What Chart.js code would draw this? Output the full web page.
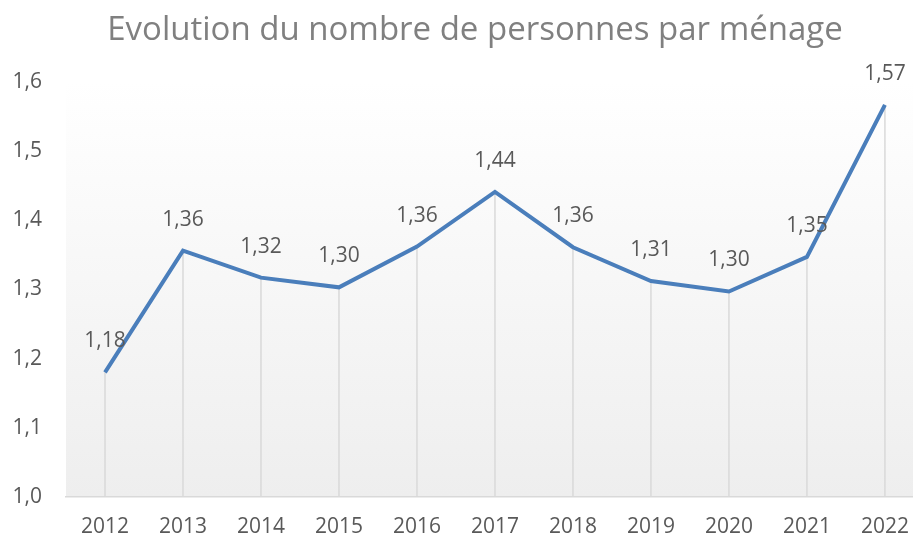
<!DOCTYPE html>
<html>
<head>
<meta charset="utf-8">
<script src="https://cdn.jsdelivr.net/npm/chart.js@4/dist/chart.umd.min.js"></script>
<style>
  body { margin: 0; background: #fff; }
</style>
</head>
<body>
<canvas id="chart" width="913" height="540"></canvas>
<script>
const titre = 'Evolution du nombre de personnes par ménage'
const annees = [2012, 2013, 2014, 2015, 2016, 2017, 2018, 2019, 2020, 2021, 2022]
const personnes = [1.18, 1.356, 1.317, 1.303, 1.362, 1.441, 1.361, 1.312, 1.297, 1.347, 1.567]
const yTicks = [1.0, 1.1, 1.2, 1.3, 1.4, 1.5, 1.6]

const virgule = (v, d) => v.toFixed(d).replace('.', ',')

// fond dégradé de la zone de tracé
const fondPlugin = {
  id: 'fond',
  beforeDraw(chart) {
    const { ctx, chartArea: a } = chart
    const g = ctx.createLinearGradient(0, a.top, 0, a.bottom)
    g.addColorStop(0, '#ffffff')
    g.addColorStop(1, '#eeeeee')
    ctx.save()
    ctx.fillStyle = g
    ctx.fillRect(a.left, a.top, a.right - a.left, a.bottom - a.top)
    ctx.restore()
  }
}

// lignes de projection (drop lines) sous chaque point
const projectionPlugin = {
  id: 'projection',
  beforeDatasetsDraw(chart) {
    const { ctx, chartArea: a } = chart
    const meta = chart.getDatasetMeta(0)
    ctx.save()
    ctx.strokeStyle = '#d9d9d9'
    ctx.lineWidth = 1.5
    meta.data.forEach(pt => {
      ctx.beginPath()
      ctx.moveTo(pt.x, pt.y)
      ctx.lineTo(pt.x, a.bottom)
      ctx.stroke()
    })
    ctx.restore()
  }
}

// étiquettes de données + titre
const textePlugin = {
  id: 'texte',
  afterDraw(chart) {
    const { ctx } = chart
    const meta = chart.getDatasetMeta(0)
    ctx.save()
    ctx.fillStyle = '#595959'
    ctx.font = '21px "Open Sans"'
    ctx.textAlign = 'center'
    ctx.textBaseline = 'middle'
    meta.data.forEach((pt, i) => {
      ctx.fillText(virgule(personnes[i], 2), pt.x, pt.y - 31)
    })
    ctx.fillStyle = '#808080'
    ctx.font = '33px "Open Sans"'
    ctx.textBaseline = 'alphabetic'
    ctx.fillText(titre, 475, 40)
    ctx.restore()
  }
}

const config = {
  type: 'line',
  data: {
    datasets: [{
      data: annees.map((a, i) => ({ x: a, y: personnes[i] })),
      borderColor: '#4a7ebb',
      borderWidth: 4,
      pointRadius: 0,
      tension: 0,
      fill: false,
    }]
  },
  options: {
    responsive: false,
    animation: false,
    layout: { padding: { top: 82, right: 0, left: 0, bottom: 0 } },
    plugins: {
      legend: { display: false },
      title: { display: false },
      tooltip: { enabled: false },
    },
    scales: {
      x: {
        type: 'linear',
        min: 2011.5,
        max: 2022.36,
        afterBuildTicks: scale => { scale.ticks = annees.map(v => ({ value: v })) },
        grid: { display: true, drawOnChartArea: false, drawTicks: true, tickLength: 18, tickColor: 'rgba(0,0,0,0)' },
        border: { display: true, color: '#d9d9d9', width: 1.5 },
        ticks: {
          color: '#595959',
          font: { family: 'Open Sans', size: 21 },
          padding: 0,
          maxRotation: 0,
          autoSkip: false,
          callback: v => String(v),
        }
      },
      y: {
        min: 1.0,
        max: 1.6,
        afterBuildTicks: scale => { scale.ticks = yTicks.map(v => ({ value: v })) },
        afterFit: scale => { scale.width = 66 },
        grid: { display: false, drawTicks: false },
        border: { display: false },
        ticks: {
          color: '#595959',
          font: { family: 'Open Sans', size: 21 },
          padding: 24,
          callback: v => virgule(v, 1),
        }
      }
    }
  },
  plugins: [fondPlugin, projectionPlugin, textePlugin]
}

new Chart(document.getElementById('chart'), config)
</script>
</body>
</html>
